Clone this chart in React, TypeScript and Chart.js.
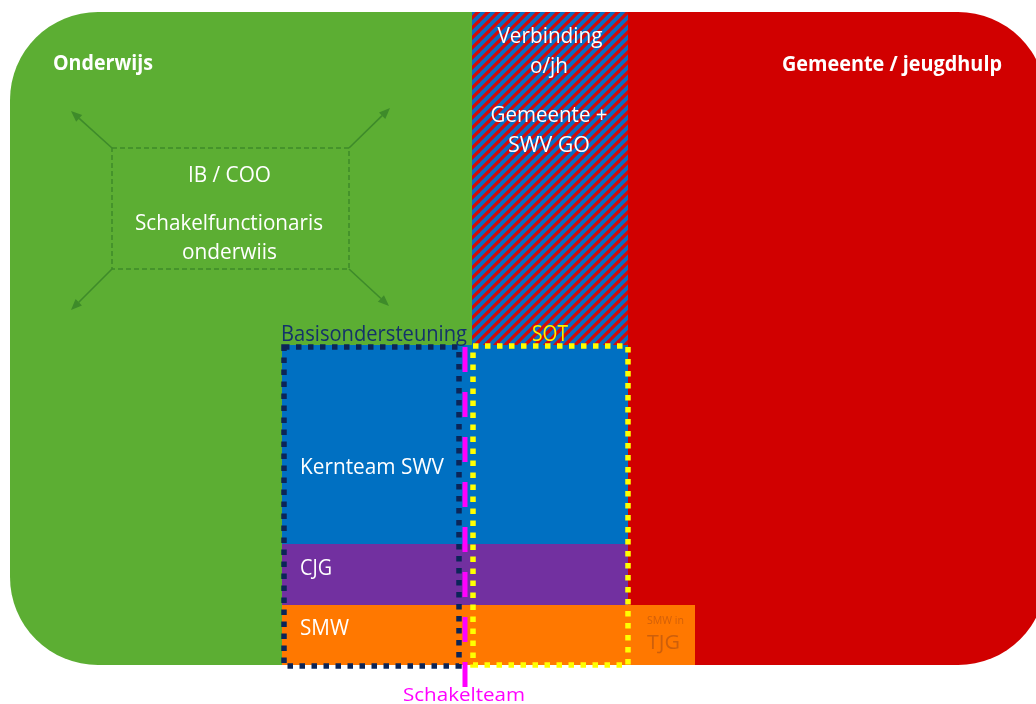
import React, { useEffect, useRef } from "react";
import { Chart, registerables } from "chart.js";

Chart.register(...registerables);

const W = 1036;
const H = 704;

// ---- Diagram data (in diagram units: x 0..1036, y 0..704 top-down) ----
// Outer rounded panel
const PANEL_X = [10, 1046];
const PANEL_Y = [12, 665];
const PANEL_R = 88;

// Column zones of the panel
const ZONE_NAMES = ["onderwijs", "verbinding", "gemeente"];
const ZONE_X0 = [10, 472, 628];
const ZONE_X1 = [472, 628, 1046];
const ZONE_Y1 = [665, 345, 665];

// Filled blocks
const BLOCK_NAMES = ["Kernteam SWV", "CJG", "SMW", "SMW in TJG"];
const BLOCK_X0 = [282, 282, 282, 628];
const BLOCK_X1 = [628, 628, 628, 695];
const BLOCK_Y0 = [345, 544, 605, 605];
const BLOCK_Y1 = [544, 605, 665, 665];

// Dotted frames
const FRAME_NAMES = ["Basisondersteuning", "SOT"];
const FRAME_X0 = [284, 473];
const FRAME_X1 = [459, 628];
const FRAME_Y0 = [347, 346];
const FRAME_Y1 = [666, 665];

// Schakelteam line
const SCHAKEL_X = [465, 465];
const SCHAKEL_Y = [347, 688];

// Inner dashed box (IB / COO)
const INNER_X = [112, 349];
const INNER_Y = [148, 269];

// Arrows from inner box corners
const ARROW_FROM_X = [112, 349, 112, 349];
const ARROW_FROM_Y = [148, 148, 269, 269];
const ARROW_TO_X = [71, 390, 71, 389];
const ARROW_TO_Y = [111, 108, 310, 306];

// Text labels: anchor x, baseline y, rendered width
const TEXTS = [
  "Onderwijs",
  "Gemeente / jeugdhulp",
  "Verbinding",
  "o/jh",
  "Gemeente +",
  "SWV GO",
  "IB / COO",
  "Schakelfunctionaris",
  "onderwiis",
  "Basisondersteuning",
  "SOT",
  "Kernteam SWV",
  "CJG",
  "SMW",
  "SMW in",
  "TJG",
  "Schakelteam",
];
const TEXT_X = [53, 782, 550, 549, 549, 549, 229.5, 229, 229.5, 281, 550, 300, 300, 300, 647, 647, 464];
const TEXT_Y = [70, 71, 43, 73, 122, 152, 182, 230, 259, 341, 341, 474, 575, 635, 624, 649, 701];
const TEXT_W = [100, 220, 105, 38, 117, 82, 83, 188, 95, 186, 36, 144, 32, 49, 37, 33, 122];
const TEXT_KIND = [
  "bold", "bold", "center", "center", "center", "center", "center", "center", "center",
  "navy", "yellow", "left", "left", "left", "small", "tjg", "magenta",
];

// ---- Styles ----
const ZONE_COLOR: Record<string, string> = {
  onderwijs: "#5CAE33",
  gemeente: "#D10000",
};
const BLOCK_COLOR = ["#0070C2", "#7230A0", "#FF7800", "#FF7800"];
const FRAME_COLOR = ["#0B2558", "#FFFF00"];
const FONT = '"Open Sans", "Liberation Sans", sans-serif';
const KIND_STYLE: Record<string, { font: string; color: string; align: "left" | "center" }> = {
  bold: { font: `700 21px ${FONT}`, color: "#FFFFFF", align: "left" },
  center: { font: `400 21px ${FONT}`, color: "#FFFFFF", align: "center" },
  left: { font: `400 21px ${FONT}`, color: "#FFFFFF", align: "left" },
  navy: { font: `400 21px ${FONT}`, color: "#14326A", align: "left" },
  yellow: { font: `400 21px ${FONT}`, color: "#FFF200", align: "center" },
  small: { font: `400 10px ${FONT}`, color: "rgba(200,90,10,0.8)", align: "left" },
  tjg: { font: `400 20px ${FONT}`, color: "rgba(200,92,12,0.9)", align: "left" },
  magenta: { font: `400 19px ${FONT}`, color: "#FF00FF", align: "center" },
};

function makeHatch(ctx: CanvasRenderingContext2D) {
  const s = 10;
  const c = document.createElement("canvas");
  c.width = s;
  c.height = s;
  const g = c.getContext("2d")!;
  g.fillStyle = "#0A6DC4";
  g.fillRect(0, 0, s, s);
  g.strokeStyle = "#D20A0A";
  g.lineWidth = 3.2;
  for (const o of [-s, 0, s]) {
    g.beginPath();
    g.moveTo(o - 2, s + 2);
    g.lineTo(o + s + 2, -2);
    g.stroke();
  }
  return ctx.createPattern(c, "repeat")!;
}

const diagramPlugin = {
  id: "diagram",
  afterDraw(chart: any) {
    const ctx: CanvasRenderingContext2D = chart.ctx;
    const xs = chart.scales.x;
    const ys = chart.scales.y;
    const px = (v: number) => xs.getPixelForValue(v);
    const py = (v: number) => ys.getPixelForValue(v);

    ctx.save();
    const l = px(PANEL_X[0]);
    const r = px(PANEL_X[1]);
    const t = py(PANEL_Y[0]);
    const b = py(PANEL_Y[1]);
    const rad = Math.abs(px(PANEL_R) - px(0));
    ctx.beginPath();
    ctx.roundRect(l, t, r - l, b - t, rad);
    ctx.clip();
    const hatch = makeHatch(ctx);
    ZONE_NAMES.forEach((z, i) => {
      const x0 = px(ZONE_X0[i]);
      const x1 = px(ZONE_X1[i]);
      const y1 = py(ZONE_Y1[i]);
      ctx.fillStyle = z === "verbinding" ? hatch : ZONE_COLOR[z];
      ctx.fillRect(x0, t, x1 - x0, y1 - t);
    });
    ctx.restore();

    BLOCK_NAMES.forEach((_, i) => {
      const x0 = px(BLOCK_X0[i]);
      const x1 = px(BLOCK_X1[i]);
      const y0 = py(BLOCK_Y0[i]);
      const y1 = py(BLOCK_Y1[i]);
      ctx.fillStyle = BLOCK_COLOR[i];
      ctx.fillRect(x0, y0, x1 - x0, y1 - y0);
    });

    ctx.save();
    ctx.strokeStyle = "#3E8B2A";
    ctx.lineWidth = 1.5;
    ctx.setLineDash([5, 3]);
    ctx.strokeRect(px(INNER_X[0]), py(INNER_Y[0]), px(INNER_X[1]) - px(INNER_X[0]), py(INNER_Y[1]) - py(INNER_Y[0]));
    ctx.restore();

    ctx.save();
    ctx.strokeStyle = "#3E8B2A";
    ctx.fillStyle = "#3E8B2A";
    ctx.lineWidth = 1.6;
    ARROW_FROM_X.forEach((_, i) => {
      const x0 = px(ARROW_FROM_X[i]);
      const y0 = py(ARROW_FROM_Y[i]);
      const x1 = px(ARROW_TO_X[i]);
      const y1 = py(ARROW_TO_Y[i]);
      const a = Math.atan2(y1 - y0, x1 - x0);
      const hl = 11;
      const hw = 4.5;
      const bx = x1 - hl * Math.cos(a);
      const by = y1 - hl * Math.sin(a);
      ctx.beginPath();
      ctx.moveTo(x0, y0);
      ctx.lineTo(bx, by);
      ctx.stroke();
      ctx.beginPath();
      ctx.moveTo(x1, y1);
      ctx.lineTo(bx + hw * Math.sin(a), by - hw * Math.cos(a));
      ctx.lineTo(bx - hw * Math.sin(a), by + hw * Math.cos(a));
      ctx.closePath();
      ctx.fill();
    });
    ctx.restore();

    FRAME_NAMES.forEach((_, i) => {
      ctx.save();
      ctx.strokeStyle = FRAME_COLOR[i];
      ctx.lineWidth = 5.5;
      ctx.setLineDash([5.5, 6.5]);
      ctx.lineCap = "butt";
      ctx.strokeRect(px(FRAME_X0[i]), py(FRAME_Y0[i]), px(FRAME_X1[i]) - px(FRAME_X0[i]), py(FRAME_Y1[i]) - py(FRAME_Y0[i]));
      ctx.restore();
    });

    ctx.save();
    ctx.strokeStyle = "#FF00FF";
    ctx.lineWidth = 5;
    ctx.setLineDash([25, 20]);
    ctx.beginPath();
    ctx.moveTo(px(SCHAKEL_X[0]), py(SCHAKEL_Y[0]));
    ctx.lineTo(px(SCHAKEL_X[1]), py(SCHAKEL_Y[1]));
    ctx.stroke();
    ctx.restore();

    TEXTS.forEach((txt, i) => {
      const st = KIND_STYLE[TEXT_KIND[i]];
      ctx.save();
      ctx.font = st.font;
      ctx.fillStyle = st.color;
      ctx.textBaseline = "alphabetic";
      ctx.textAlign = st.align;
      const m = ctx.measureText(txt).width;
      const target = Math.abs(px(TEXT_W[i]) - px(0));
      const sx = target / m;
      ctx.translate(px(TEXT_X[i]), py(TEXT_Y[i]));
      ctx.scale(sx, 1);
      ctx.fillText(txt, 0, 0);
      ctx.restore();
    });
  },
};

export default function App() {
  const ref = useRef<HTMLCanvasElement | null>(null);
  useEffect(() => {
    document.body.style.margin = "0";
    const canvas = ref.current;
    if (!canvas) return;
    const chart = new Chart(canvas, {
      type: "scatter",
      data: {
        datasets: [
          {
            label: "labels",
            data: TEXTS.map((_, i) => ({ x: TEXT_X[i], y: TEXT_Y[i] })),
            pointRadius: 0,
            pointHoverRadius: 0,
          },
        ],
      },
      options: {
        animation: false,
        responsive: false,
        maintainAspectRatio: false,
        devicePixelRatio: 1,
        layout: { padding: 0 },
        events: [],
        plugins: {
          legend: { display: false },
          tooltip: { enabled: false },
          title: { display: false },
        },
        scales: {
          x: { type: "linear", min: 0, max: W, display: false },
          y: { type: "linear", min: 0, max: H, reverse: true, display: false },
        },
      },
      plugins: [diagramPlugin],
    });
    return () => chart.destroy();
  }, []);
  return (
    <div style={{ width: W, height: H, background: "#FFFFFF" }}>
      <canvas ref={ref} width={W} height={H} style={{ display: "block", width: W, height: H }} />
    </div>
  );
}
